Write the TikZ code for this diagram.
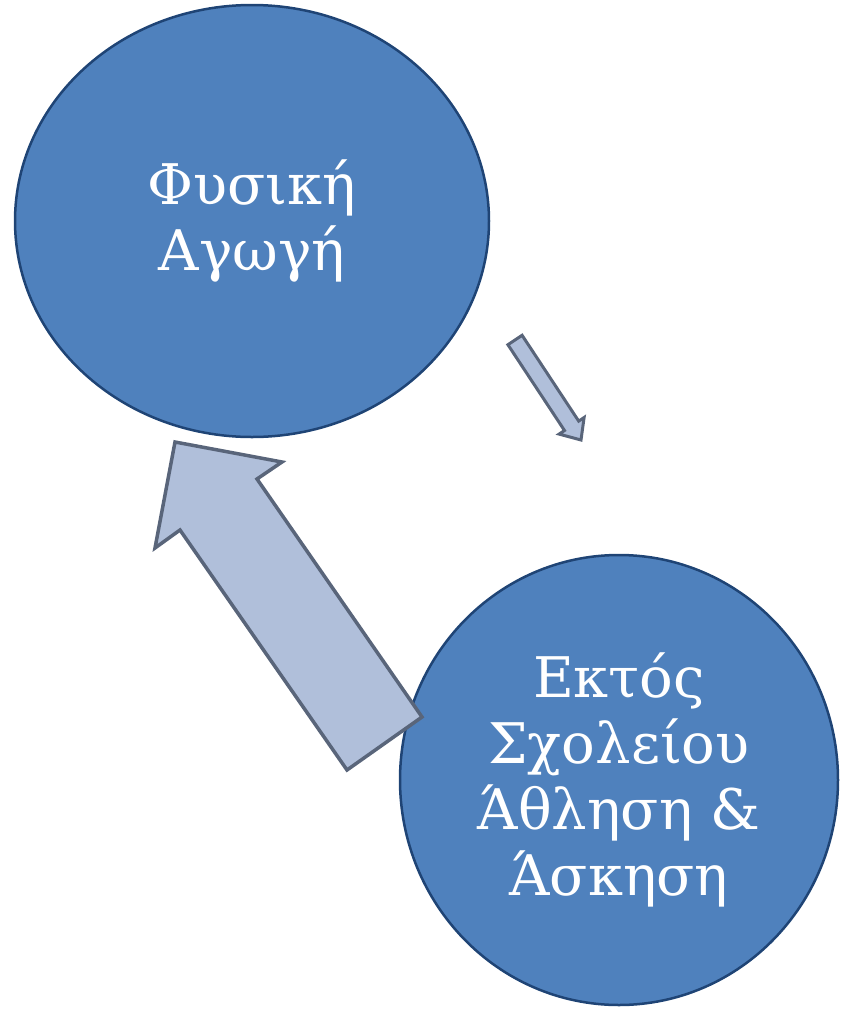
\documentclass[tikz,border=0pt]{standalone}
\usepackage{fontspec}
\setmainfont{DejaVu Serif}
\usetikzlibrary{shapes.geometric}
\definecolor{ellfill}{HTML}{4F81BD}
\definecolor{elldraw}{HTML}{1F4475}
\definecolor{arrfill}{HTML}{B0BFDA}
\definecolor{arrdraw}{HTML}{59657A}
\tikzset{
  bubble/.style={ellipse, fill=ellfill, draw=elldraw, line width=2.5pt, inner sep=0pt,
    text=white, align=center, font=\fontsize{56}{66}\selectfont},
  blockarrow/.style={fill=arrfill, draw=arrdraw, line width=3.5pt, line join=miter}
}
\begin{document}
\begin{tikzpicture}[x=1pt,y=-1pt]
\useasboundingbox (0,0) rectangle (846,1009);
\node[bubble, minimum width=474, minimum height=432] (top) at (252,221) {Φυσική\\Αγωγή};
\node[bubble, minimum width=438, minimum height=450] (bot) at (619,780) {Εκτός\\Σχολείου\\Άθληση \&\\Άσκηση};
% small arrow
\draw[blockarrow, line width=3pt] (507.9,344.7) -- (564.5,430.5) -- (559.1,434.1) -- (581,440) -- (584.1,417.5) -- (578.7,421.1) -- (522.1,335.3) -- cycle;
% large arrow
\draw[blockarrow] (347,770) -- (180,530) -- (155,548) -- (175,442) -- (282,462) -- (257,479) -- (422,717) -- cycle;
\end{tikzpicture}
\end{document}
